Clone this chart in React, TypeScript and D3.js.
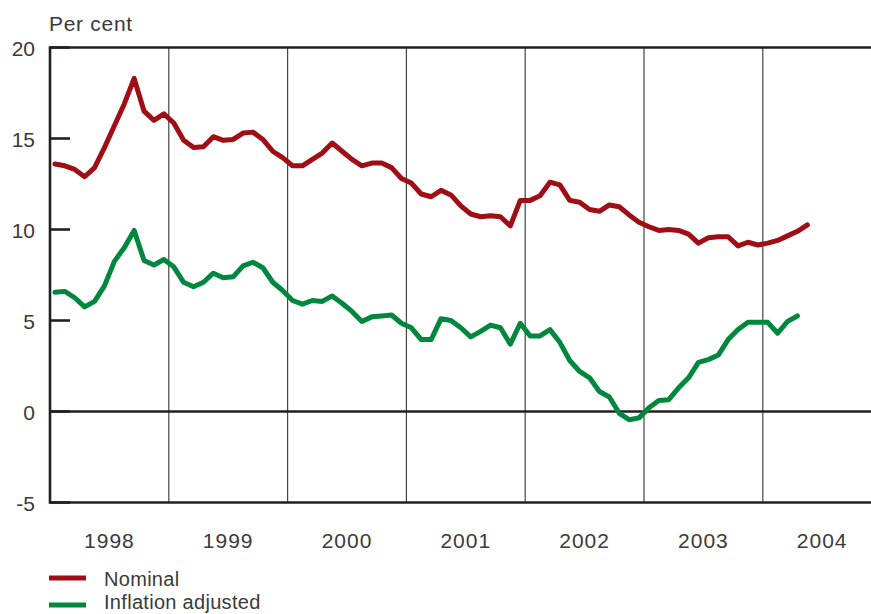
import React from "react";
import * as d3 from "d3";

const years = ["1998", "1999", "2000", "2001", "2002", "2003", "2004"];
const yTicks = [20, 15, 10, 5, 0, -5];

// Monthly, Jan 1998 – May 2004
const nominal = [
  13.6, 13.5, 13.3, 12.9, 13.4, 14.5, 15.7, 16.9, 18.3, 16.5, 16.0, 16.35,
  15.85, 14.9, 14.5, 14.55, 15.1, 14.9, 14.95, 15.3, 15.35, 14.95, 14.3, 13.95,
  13.5, 13.5, 13.85, 14.2, 14.75, 14.3, 13.85, 13.5, 13.65, 13.65, 13.4, 12.8,
  12.55, 11.95, 11.8, 12.15, 11.9, 11.3, 10.85, 10.7, 10.75, 10.7, 10.2, 11.6,
  11.6, 11.85, 12.6, 12.45, 11.6, 11.5, 11.1, 11.0, 11.35, 11.25, 10.8, 10.4,
  10.15, 9.95, 10.0, 9.95, 9.75, 9.25, 9.55, 9.6, 9.6, 9.1, 9.3, 9.15,
  9.25, 9.4, 9.65, 9.9, 10.25,
];

// Monthly, Jan 1998 – Apr 2004
const inflationAdjusted = [
  6.55, 6.6, 6.25, 5.75, 6.05, 6.9, 8.25, 9.0, 9.95, 8.3, 8.05, 8.35,
  7.95, 7.1, 6.85, 7.1, 7.6, 7.35, 7.4, 8.0, 8.2, 7.9, 7.1, 6.65,
  6.1, 5.9, 6.1, 6.05, 6.35, 5.95, 5.5, 4.95, 5.2, 5.25, 5.3, 4.85,
  4.6, 3.95, 3.95, 5.1, 5.0, 4.6, 4.1, 4.4, 4.75, 4.6, 3.7, 4.85,
  4.15, 4.15, 4.5, 3.8, 2.8, 2.2, 1.85, 1.1, 0.8, -0.1, -0.45, -0.35,
  0.2, 0.6, 0.65, 1.3, 1.85, 2.7, 2.85, 3.1, 3.95, 4.5, 4.9, 4.9,
  4.9, 4.3, 4.95, 5.25,
];

const series = [
  { name: "Nominal", values: nominal, color: "#a00d15" },
  { name: "Inflation adjusted", values: inflationAdjusted, color: "#00873e" },
];

const W = 871;
const H = 614;
const left = 50;
const right = 871;
const top = 47.5;
const bottom = 502.5;
const font = "'Liberation Sans', Arial, Helvetica, sans-serif";
const textColor = "#3a3a3a";
const axisColor = "#231f20";

export default function App() {
  const x = d3.scaleLinear().domain([0, 84]).range([left, left + 7 * 118.8]);
  const y = d3.scaleLinear().domain([-5, 20]).range([bottom, top]);

  const line = d3
    .line<number>()
    .x((_, i) => x(i + 0.5))
    .y((d) => y(d))
    .curve(d3.curveLinear);

  const boundaries = d3.range(1, 7).map((k) => k * 12);

  return (
    <svg
      width={W}
      height={H}
      style={{ position: "absolute", left: 0, top: 0, background: "#fff" }}
      fontFamily={font}
    >
      <defs>
        <clipPath id="plot">
          <rect x={left} y={top} width={right - left} height={bottom - top} />
        </clipPath>
      </defs>

      {/* Per cent */}
      <text x={49} y={31} fontSize={21} letterSpacing={0.7} fill={textColor}>
        Per cent
      </text>

      {/* year separators */}
      {boundaries.map((b) => (
        <line
          key={b}
          x1={x(b)}
          x2={x(b)}
          y1={top}
          y2={bottom}
          stroke="#444"
          strokeWidth={1.2}
        />
      ))}

      {/* y ticks & labels */}
      {yTicks.map((t) => (
        <g key={t}>
          <line
            x1={left}
            x2={left + 20}
            y1={y(t)}
            y2={y(t)}
            stroke={axisColor}
            strokeWidth={2.6}
          />
          <text
            x={35}
            y={y(t) + 1}
            textAnchor="end"
            dominantBaseline="central"
            fontSize={21}
            fill={textColor}
          >
            {t}
          </text>
        </g>
      ))}

      {/* zero line */}
      <line x1={left} x2={right} y1={y(0)} y2={y(0)} stroke={axisColor} strokeWidth={2.6} />

      {/* frame */}
      <line x1={left} x2={right} y1={top} y2={top} stroke={axisColor} strokeWidth={2.6} />
      <line x1={left} x2={right} y1={bottom} y2={bottom} stroke={axisColor} strokeWidth={2.6} />
      <line x1={left} x2={left} y1={top - 1.3} y2={bottom + 1.3} stroke={axisColor} strokeWidth={2.6} />

      {/* data lines */}
      <g clipPath="url(#plot)">
        {series.map((s) => (
          <path
            key={s.name}
            d={line(s.values) || ""}
            fill="none"
            stroke={s.color}
            strokeWidth={5}
            strokeLinejoin="round"
            strokeLinecap="round"
          />
        ))}
      </g>

      {/* year labels */}
      {years.map((yr, i) => (
        <text
          key={yr}
          x={x(i * 12 + 6)}
          y={548}
          textAnchor="middle"
          fontSize={21}
          letterSpacing={1}
          fill={textColor}
        >
          {yr}
        </text>
      ))}

      {/* legend */}
      {series.map((s, i) => (
        <g key={s.name}>
          <line
            x1={49}
            x2={86}
            y1={578 + i * 27}
            y2={578 + i * 27}
            stroke={s.color}
            strokeWidth={5}
          />
          <text x={104} y={586 + i * 23} fontSize={20} letterSpacing={0.3} fill={textColor}>
            {s.name}
          </text>
        </g>
      ))}
    </svg>
  );
}
